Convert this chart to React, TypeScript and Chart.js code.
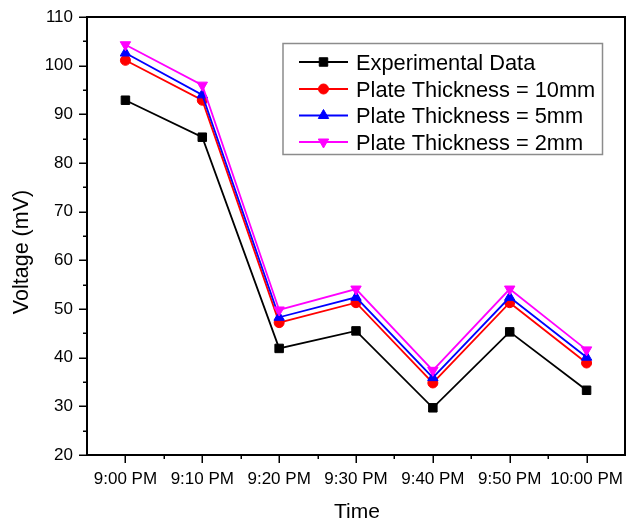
import React, { useEffect, useRef } from "react";
import { Chart, registerables } from "chart.js";

Chart.register(...registerables);

const timeLabels = ["9:00 PM", "9:10 PM", "9:20 PM", "9:30 PM", "9:40 PM", "9:50 PM", "10:00 PM"];
const experimental = [92.9, 85.3, 41.9, 45.5, 29.7, 45.3, 33.3];
const thickness10 = [101.1, 92.9, 47.2, 51.3, 34.8, 51.3, 38.9];
const thickness5 = [102.6, 94.0, 48.3, 52.4, 35.9, 52.4, 40.1];
const thickness2 = [104.3, 96.0, 49.8, 54.1, 37.4, 54.1, 41.6];

const seriesNames = [
  "Experimental Data",
  "Plate Thickness = 10mm",
  "Plate Thickness = 5mm",
  "Plate Thickness = 2mm",
];

const FONT = "'Liberation Sans', Arial, sans-serif";

type Style = { color: string; pointStyle: string; radius: number; rotation: number };
const styles: Style[] = [
  { color: "#000000", pointStyle: "rect", radius: 6, rotation: 0 },
  { color: "#ff0000", pointStyle: "circle", radius: 5, rotation: 0 },
  { color: "#0000ff", pointStyle: "triangle", radius: 6, rotation: 0 },
  { color: "#ff00ff", pointStyle: "triangle", radius: 6, rotation: 180 },
];

// Legend symbol, same geometry as the chart's point styles.
function drawMarker(ctx: CanvasRenderingContext2D, s: Style, x: number, y: number) {
  ctx.beginPath();
  if (s.pointStyle === "rect") {
    const h = Math.SQRT1_2 * s.radius;
    ctx.rect(x - h, y - h, 2 * h, 2 * h);
  } else if (s.pointStyle === "circle") {
    ctx.arc(x, y, s.radius, 0, Math.PI * 2);
  } else {
    let a = (s.rotation * Math.PI) / 180;
    for (let k = 0; k < 3; k++) {
      const px = x + Math.sin(a) * s.radius;
      const py = y - Math.cos(a) * s.radius;
      if (k === 0) ctx.moveTo(px, py);
      else ctx.lineTo(px, py);
      a += (2 * Math.PI) / 3;
    }
    ctx.closePath();
  }
  ctx.fill();
  ctx.stroke();
}

// Draws white background, plot frame, major/minor ticks, axis titles and the boxed legend.
const decorations = {
  id: "decorations",
  beforeDraw(chart: any) {
    const { ctx, width, height } = chart;
    ctx.save();
    ctx.fillStyle = "#ffffff";
    ctx.fillRect(0, 0, width, height);
    ctx.restore();
  },
  afterDraw(chart: any) {
    const { ctx, chartArea } = chart;
    const { left, right, top, bottom } = chartArea;
    const xs = chart.scales.x;
    const ys = chart.scales.y;
    ctx.save();

    // frame
    ctx.strokeStyle = "#000";
    ctx.lineWidth = 2;
    ctx.strokeRect(left, top, right - left, bottom - top);

    // y ticks (major every 10, minor every 5)
    ctx.lineWidth = 1.5;
    ctx.beginPath();
    for (let v = ys.min; v <= ys.max; v += 5) {
      const y = Math.round(ys.getPixelForValue(v)) + 0.25;
      const len = v % 10 === 0 ? 8 : 4;
      ctx.moveTo(left - len, y);
      ctx.lineTo(left, y);
    }
    // x ticks (major on categories, minor halfway between)
    const n = timeLabels.length;
    for (let i = 0; i < n; i++) {
      const x = Math.round(xs.getPixelForValue(i)) + 0.25;
      ctx.moveTo(x, bottom);
      ctx.lineTo(x, bottom + 8);
      if (i < n - 1) {
        const xm = Math.round((xs.getPixelForValue(i) + xs.getPixelForValue(i + 1)) / 2) + 0.25;
        ctx.moveTo(xm, bottom);
        ctx.lineTo(xm, bottom + 4);
      }
    }
    ctx.stroke();

    // axis titles
    ctx.fillStyle = "#000";
    ctx.font = `21px ${FONT}`;
    ctx.textAlign = "center";
    ctx.textBaseline = "alphabetic";
    ctx.fillText("Time", (left + right) / 2 + 1, 518);
    ctx.save();
    ctx.translate(28, 252);
    ctx.rotate(-Math.PI / 2);
    ctx.font = `21.5px ${FONT}`;
    ctx.fillText("Voltage (mV)", 0, 0);
    ctx.restore();

    // legend
    const bx = 283, by = 43.5, bw = 319.5, bh = 111;
    ctx.strokeStyle = "#8c8c8c";
    ctx.lineWidth = 1.5;
    ctx.strokeRect(bx, by, bw, bh);
    const rows = [62, 89, 115.5, 142];
    ctx.font = `21.8px ${FONT}`;
    ctx.textAlign = "left";
    rows.forEach((ry, i) => {
      const s = styles[i];
      ctx.strokeStyle = s.color;
      ctx.lineWidth = 1.8;
      ctx.beginPath();
      ctx.moveTo(299, ry);
      ctx.lineTo(348, ry);
      ctx.stroke();
      ctx.fillStyle = s.color;
      ctx.lineWidth = 1;
      drawMarker(ctx, s, 323.5, ry);
      ctx.fillStyle = "#000";
      ctx.fillText(seriesNames[i], 356, ry + 7.7);
    });
    ctx.restore();
  },
};

export default function App() {
  const canvasRef = useRef<HTMLCanvasElement | null>(null);

  useEffect(() => {
    document.body.style.margin = "0";
    const canvas = canvasRef.current;
    if (!canvas) return;
    const seriesData = [experimental, thickness10, thickness5, thickness2];
    const chart = new Chart(canvas, {
      type: "line",
      data: {
        labels: timeLabels,
        datasets: seriesData.map((d, i) => ({
          label: seriesNames[i],
          data: d,
          borderColor: styles[i].color,
          backgroundColor: styles[i].color,
          borderWidth: 1.8,
          pointStyle: styles[i].pointStyle as any,
          pointRadius: styles[i].radius,
          pointRotation: styles[i].rotation,
          pointBorderWidth: 1,
          pointBackgroundColor: styles[i].color,
          pointBorderColor: styles[i].color,
          order: 3 - i,
          tension: 0,
          fill: false,
        })),
      },
      options: {
        responsive: false,
        animation: false,
        events: [],
        layout: { autoPadding: false, padding: { top: 17, right: 2, left: 0, bottom: 0 } },
        plugins: {
          legend: { display: false },
          tooltip: { enabled: false },
          title: { display: false },
        },
        scales: {
          x: {
            type: "category",
            offset: true,
            grid: { display: false, drawTicks: false },
            border: { display: false },
            ticks: {
              color: "#000",
              font: { family: FONT, size: 17 },
              padding: 14,
              maxRotation: 0,
              autoSkip: false,
            },
            afterFit: (s: any) => {
              s.height = 64;
              s.paddingLeft = 0;
              s.paddingRight = 0;
            },
          },
          y: {
            type: "linear",
            min: 20,
            max: 110,
            grid: { display: false, drawTicks: false },
            border: { display: false },
            ticks: {
              color: "#000",
              font: { family: FONT, size: 17 },
              stepSize: 10,
              padding: 14,
            },
            afterFit: (s: any) => {
              s.width = 87;
              s.paddingTop = 0;
              s.paddingBottom = 0;
            },
          },
        },
      },
      plugins: [decorations],
    });
    return () => chart.destroy();
  }, []);

  return (
    <div style={{ position: "fixed", left: 0, top: 0, width: 627, height: 519, background: "#fff" }}>
      <canvas ref={canvasRef} width={627} height={519} style={{ width: 627, height: 519 }} />
    </div>
  );
}
